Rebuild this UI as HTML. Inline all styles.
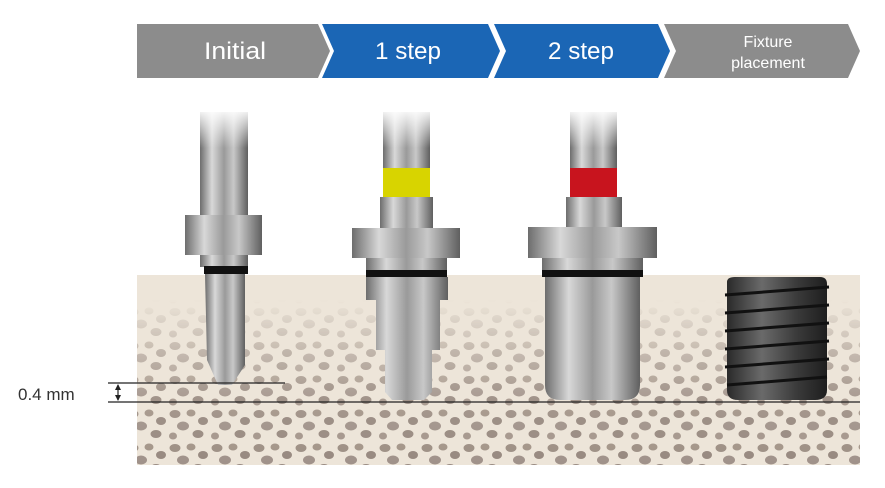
<!DOCTYPE html>
<html><head><meta charset="utf-8"><style>
html,body{margin:0;padding:0;background:#fff}
svg{display:block}
text{font-family:"Liberation Sans",sans-serif}
</style></head><body>
<svg width="885" height="488" viewBox="0 0 885 488" xmlns="http://www.w3.org/2000/svg">
<defs>
<linearGradient id="steel" x1="0" x2="1">
<stop offset="0" stop-color="#6d6d6d"/><stop offset=".25" stop-color="#d8d8d8"/><stop offset=".5" stop-color="#9a9a9a"/><stop offset=".7" stop-color="#c8c8c8"/><stop offset="1" stop-color="#5f5f5f"/>
</linearGradient>
<linearGradient id="wf" x1="0" x2="0" y1="0" y2="1">
<stop offset="0" stop-color="#fff" stop-opacity="1"/><stop offset="1" stop-color="#fff" stop-opacity="0"/>
</linearGradient>
<linearGradient id="dark" x1="0" x2="1">
<stop offset="0" stop-color="#2a2a2a"/><stop offset=".35" stop-color="#6a6a6a"/><stop offset=".7" stop-color="#3a3a3a"/><stop offset="1" stop-color="#1e1e1e"/>
</linearGradient>
<pattern id="pores" width="42" height="34" patternUnits="userSpaceOnUse">
<ellipse cx="7" cy="6" rx="5.5" ry="4" fill="#9d8f85"/>
<ellipse cx="23" cy="5" rx="4.5" ry="3.5" fill="#a39589"/>
<ellipse cx="35" cy="13" rx="5" ry="4" fill="#978980"/>
<ellipse cx="15" cy="18" rx="6" ry="4.5" fill="#a0928a"/>
<ellipse cx="30" cy="26" rx="5.5" ry="4" fill="#988a81"/>
<ellipse cx="5" cy="28" rx="4" ry="3.5" fill="#a4968c"/>
</pattern>
<linearGradient id="fade" x1="0" x2="0" y1="0" y2="1">
<stop offset="0" stop-color="#fff" stop-opacity="0"/><stop offset=".3" stop-color="#fff" stop-opacity=".5"/><stop offset=".6" stop-color="#fff" stop-opacity=".9"/><stop offset="1" stop-color="#fff" stop-opacity="1"/>
</linearGradient>
<mask id="m"><rect x="137" y="300" width="723" height="165" fill="url(#fade)"/></mask>
</defs>

<polygon points="137,24 318,24 330,51 318,78 137,78" fill="#8c8c8c"/>
<polygon points="322,24 488,24 500,51 488,78 322,78 334,51" fill="#1b66b5"/>
<polygon points="494,24 658,24 670,51 658,78 494,78 506,51" fill="#1b66b5"/>
<polygon points="664,24 848,24 860,51 848,78 664,78 676,51" fill="#8c8c8c"/>
<text x="235" y="59" font-size="24" fill="#fff" text-anchor="middle" textLength="62" lengthAdjust="spacingAndGlyphs">Initial</text>
<text x="408" y="59" font-size="24" fill="#fff" text-anchor="middle" textLength="66" lengthAdjust="spacingAndGlyphs">1 step</text>
<text x="581" y="59" font-size="24" fill="#fff" text-anchor="middle" textLength="66" lengthAdjust="spacingAndGlyphs">2 step</text>
<text x="768" y="47" font-size="16" fill="#fff" text-anchor="middle">Fixture</text>
<text x="768" y="68" font-size="16" fill="#fff" text-anchor="middle">placement</text>

<rect x="137" y="275" width="723" height="190" fill="#ede5d9"/>
<rect x="137" y="300" width="723" height="165" fill="url(#pores)" mask="url(#m)"/>

<rect x="200" y="112" width="48" height="105" fill="url(#steel)"/>
<rect x="185" y="215" width="77" height="40" fill="url(#steel)"/>
<rect x="200" y="255" width="48" height="12" fill="url(#steel)"/>
<rect x="204" y="266" width="44" height="8" fill="#111"/>
<polygon points="205,274 245,274 245,365 232,385 218,385 207,360" fill="url(#steel)"/>

<rect x="383" y="112" width="47" height="58" fill="url(#steel)"/>
<rect x="383" y="168" width="47" height="29" fill="#d8d400"/>
<rect x="380" y="197" width="53" height="32" fill="url(#steel)"/>
<rect x="352" y="228" width="108" height="30" fill="url(#steel)"/>
<rect x="366" y="258" width="81" height="14" fill="url(#steel)"/>
<rect x="366" y="270" width="81" height="7" fill="#111"/>
<polygon points="366,277 448,277 448,300 440,300 440,350 432,350 432,392 424,400 392,400 385,392 385,350 376,350 376,300 366,300" fill="url(#steel)"/>

<rect x="570" y="112" width="47" height="58" fill="url(#steel)"/>
<rect x="570" y="168" width="47" height="29" fill="#c8141e"/>
<rect x="566" y="197" width="56" height="32" fill="url(#steel)"/>
<rect x="528" y="227" width="129" height="31" fill="url(#steel)"/>
<rect x="542" y="258" width="101" height="14" fill="url(#steel)"/>
<rect x="542" y="270" width="101" height="7" fill="#111"/>
<path d="M545,277 H640 V385 Q640,400 625,400 H560 Q545,400 545,385 Z" fill="url(#steel)"/>

<rect x="195" y="108" width="430" height="40" fill="url(#wf)"/>

<path d="M727,282 Q727,277 735,277 H820 Q827,277 827,284 V390 Q827,400 815,400 H738 Q727,400 727,390 Z" fill="url(#dark)"/>
<g stroke="#111" stroke-width="3" fill="none">
<path d="M725,295 L829,287"/><path d="M725,313 L829,305"/><path d="M725,331 L829,323"/><path d="M725,349 L829,341"/><path d="M725,367 L829,359"/><path d="M727,385 L827,377"/>
</g>

<line x1="108" y1="383" x2="285" y2="383" stroke="#222" stroke-width="1.2"/>
<line x1="108" y1="402" x2="860" y2="402" stroke="#222" stroke-width="1.2"/>
<line x1="118" y1="385" x2="118" y2="400" stroke="#222" stroke-width="1.2"/>
<polygon points="118,384 115,390 121,390" fill="#222"/>
<polygon points="118,401 115,395 121,395" fill="#222"/>
<text x="18" y="400" font-size="17" fill="#333">0.4 mm</text>
</svg>
</body></html>
